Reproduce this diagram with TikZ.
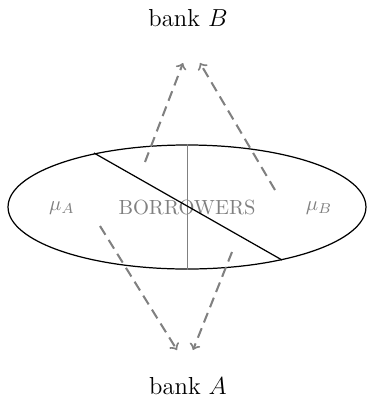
\documentclass[tikz,border=0pt]{standalone}
\usetikzlibrary{shapes.geometric}
\begin{document}
\begin{tikzpicture}[x=0.4878pt,y=-0.4878pt,
  dasharrow/.style={gray,line width=1pt,dash pattern=on 5pt off 3pt,->},
  lab/.style={font=\large,inner sep=0pt}]
\useasboundingbox (0,0) rectangle (367,398);
\node[draw=black,semithick,ellipse,inner sep=0pt,minimum width=174.6pt,minimum height=60.5pt,text=gray] (bor) at (187,207) {BORROWERS};
\node[text=gray,inner sep=0pt] (muA) at (62,208) {$\mu_A$};
\node[text=gray,inner sep=0pt] (muB) at (319,208) {$\mu_B$};
\node[lab] (bankB) at (188,18) {bank $B$};
\node[lab] (bankA) at (188,386) {bank $A$};
\coordinate (vt) at (bor.north);
\coordinate (vb) at (bor.south);
\draw[gray] (vt) -- (vb);
\coordinate (d1) at (94,153);
\coordinate (d2) at (282,260);
\draw[semithick] (d1) -- (d2);
\coordinate (s1) at (145,162);
\coordinate (t1) at (183,63);
\coordinate (s2) at (275,190);
\coordinate (t2) at (200,63);
\coordinate (s3) at (100,226);
\coordinate (t3) at (177,350);
\coordinate (s4) at (232,252);
\coordinate (t4) at (193,350);
\draw[dasharrow] (s1) -- (t1);
\draw[dasharrow] (s2) -- (t2);
\draw[dasharrow] (s3) -- (t3);
\draw[dasharrow] (s4) -- (t4);
\end{tikzpicture}
\end{document}
